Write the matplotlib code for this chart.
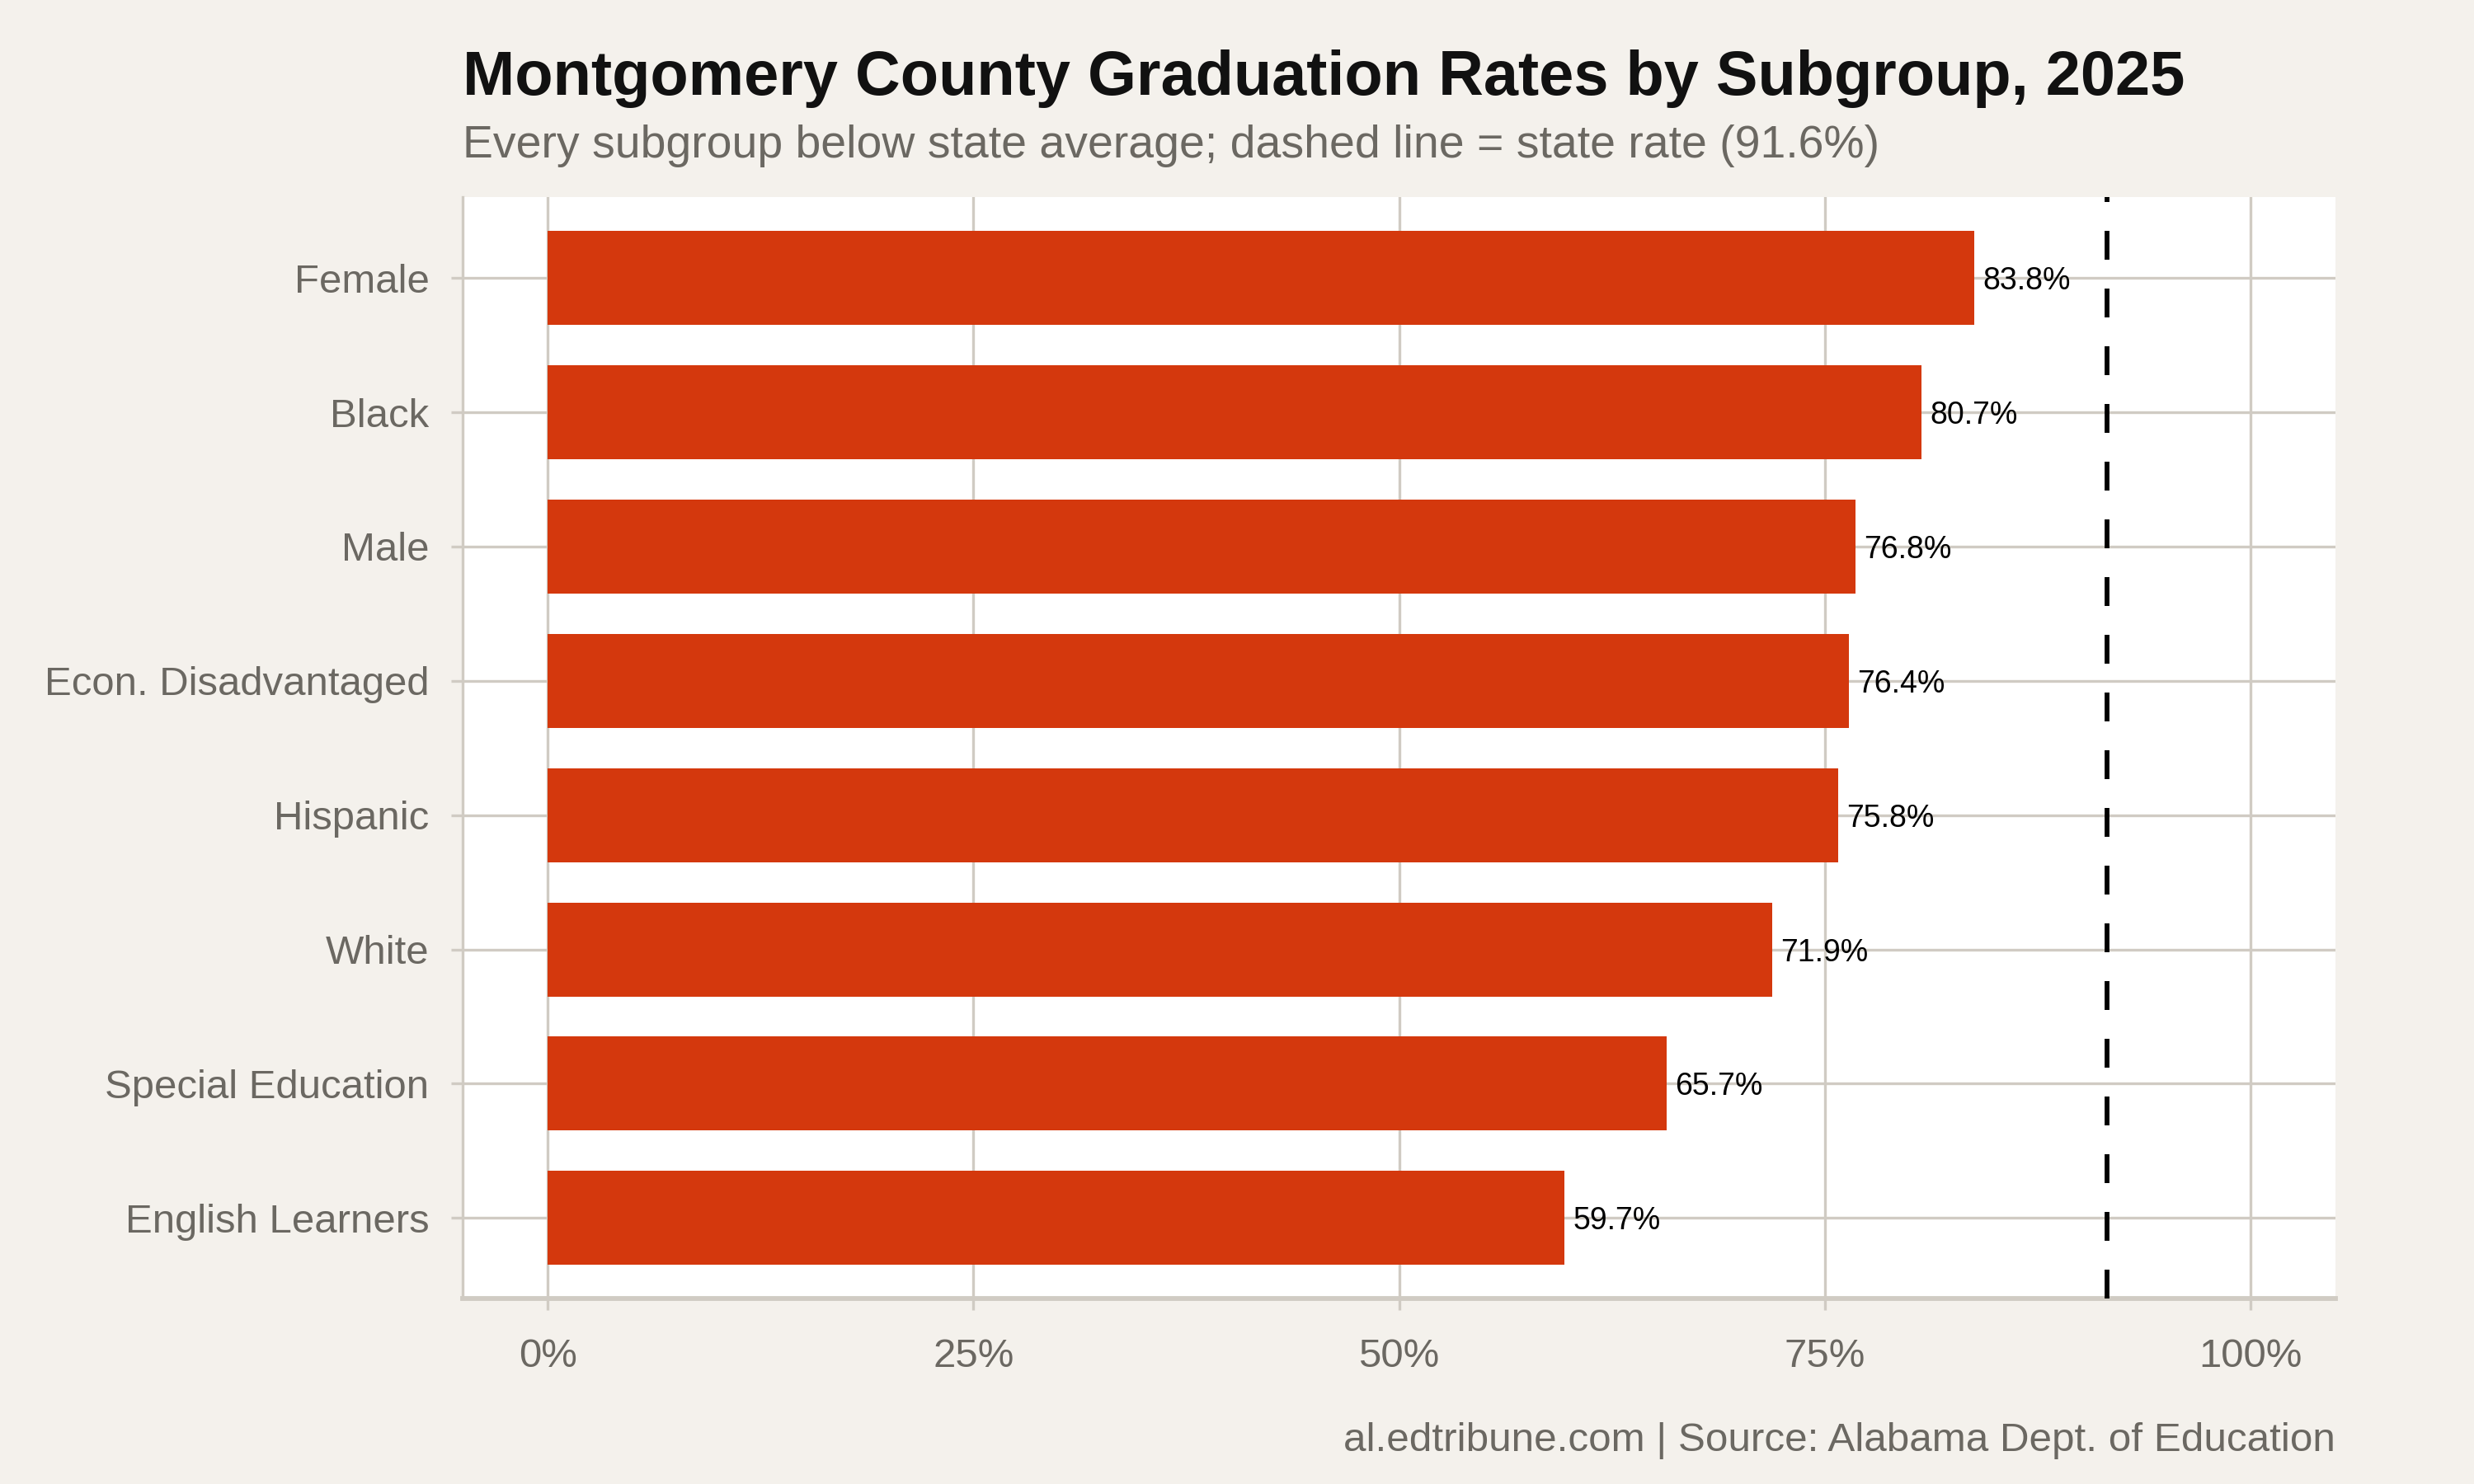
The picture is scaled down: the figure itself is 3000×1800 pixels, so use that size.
import numpy as np
import matplotlib
matplotlib.use("Agg")
import matplotlib.pyplot as plt

# data
groups = ["Female", "Black", "Male", "Econ. Disadvantaged", "Hispanic",
          "White", "Special Education", "English Learners"]
rates = [83.8, 80.7, 76.8, 76.4, 75.8, 71.9, 65.7, 59.7]
state_rate = 91.6
x_ticks = [0, 25, 50, 75, 100]
x_tick_labels = ["0%", "25%", "50%", "75%", "100%"]

BG = "#F4F1EC"
BAR = "#D4380D"
GRID = "#D0CBC3"
TXT = "#6B6862"

plt.rcParams['font.family'] = ['Liberation Sans', 'DejaVu Sans']

fig, ax = plt.subplots(figsize=(10, 6), dpi=300)
fig.patch.set_facecolor(BG)
ax.set_facecolor("white")
fig.subplots_adjust(left=0.187, right=0.944, top=0.867, bottom=0.125)

y = np.arange(len(groups))
ax.barh(y, rates, height=0.7, color=BAR, zorder=3)
for yi, r in zip(y, rates):
	ax.annotate(f"{r:.1f}%", (r, yi), xytext=(2.5, 0), textcoords="offset points",
		ha="left", va="center_baseline", fontsize=9, color="black", zorder=4)

ax.axvline(state_rate, color="black", lw=1.4, ls=(0, (6, 6)), zorder=4)

ax.set_xlim(-5, 105)
ax.set_ylim(len(groups) - 0.4, -0.6)
ax.set_yticks(y)
ax.set_yticklabels(groups)
ax.set_xticks(x_ticks)
ax.set_xticklabels(x_tick_labels)

ax.grid(True, color=GRID, lw=0.8, zorder=0)
ax.tick_params(axis="both", colors=GRID, labelcolor=TXT, labelsize=11.8,
	length=3.4, width=0.8)
ax.tick_params(axis="x", pad=8.2)
ax.tick_params(axis="y", pad=6.3)
for side in ["top", "right"]:
	ax.spines[side].set_visible(False)
ax.spines["left"].set_color(GRID)
ax.spines["left"].set_linewidth(0.8)
ax.spines["bottom"].set_color(GRID)
ax.spines["bottom"].set_linewidth(1.4)

fig.text(0.187, 0.936, "Montgomery County Graduation Rates by Subgroup, 2025",
	fontsize=18.2, fontweight="bold", color="#111111", ha="left", va="baseline")
fig.text(0.187, 0.894, "Every subgroup below state average; dashed line = state rate (91.6%)",
	fontsize=13.3, color=TXT, ha="left", va="baseline")
fig.text(0.944, 0.022, "al.edtribune.com | Source: Alabama Dept. of Education",
	fontsize=11.85, color=TXT, ha="right", va="baseline")

fig.savefig("out.png", dpi=300, facecolor=BG)
